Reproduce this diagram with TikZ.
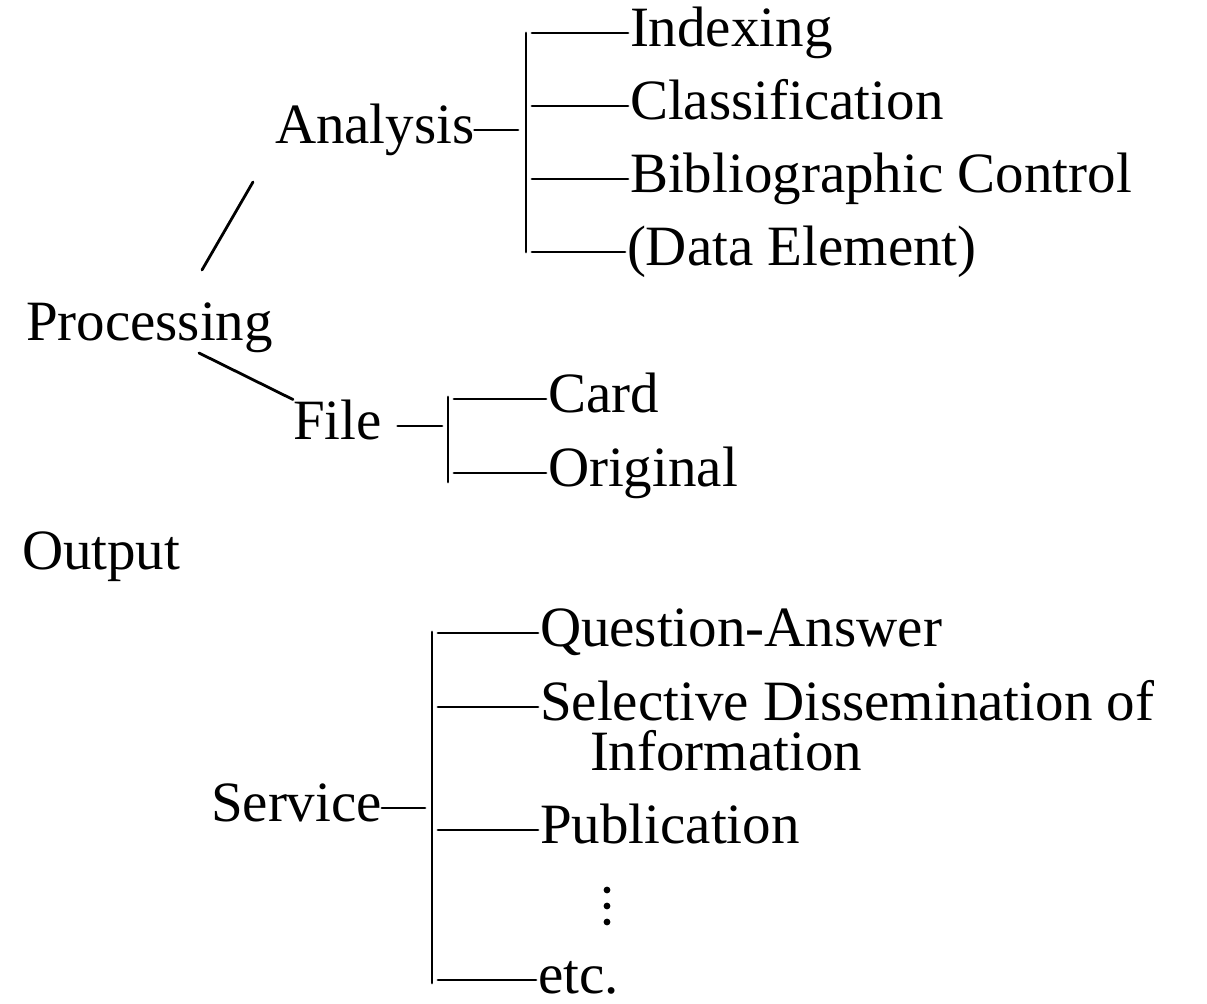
\documentclass[tikz,border=0pt]{standalone}
\usepackage{fontspec}
\setmainfont{Liberation Serif}
\usepackage{tikz}
\usetikzlibrary{calc}

\begin{document}
\fontsize{28.5}{25}\selectfont
\begin{tikzpicture}[x=0.5pt, y=-0.5pt, line width=1.4pt, line cap=round]
            \tikzstyle{every node}=[inner sep=0pt, outer sep=0pt, anchor=mid west]
            \tikzstyle{twig}=[shorten <=3pt, shorten >=1pt]
            \useasboundingbox (0,0) rectangle (1207,1004);

            % first level
            \node (proc) at (26,327)  {Processing};
            \node (out)  at (22,556)  {Output};
            % second level
            \node (ana)  at (275,130) {Analysis};
            \node (file) at (293,426) {File};
            \node (serv) at (211,808) {Service};
            % under Analysis
            \node (idx)  at (630,33)  {Indexing};
            \node (cls)  at (630,106) {Classification};
            \node (bib)  at (630,179) {Bibliographic Control};
            \node (dat)  at (627,252) {(Data Element)};
            % under File
            \node (card) at (548,399) {Card};
            \node (orig) at (548,473) {Original};
            % under Service
            \node (qa)   at (540,633) {Question-Answer};
            \node (sdi)  at (540,707) {Selective Dissemination of};
            \node (info) at (590,757) {Information};
            \node (pub)  at (540,830) {Publication};
            \node (etc)  at (538,980) {etc.};

            % bars
            \coordinate (aTop) at (526,33);  \coordinate (aBot) at (526,252);
            \coordinate (fTop) at (448,397); \coordinate (fBot) at (448,482);
            \coordinate (sTop) at (432,632); \coordinate (sBot) at (432,983);
            \draw (aTop) -- (aBot);
            \draw (fTop) -- (fBot);
            \draw (sTop) -- (sBot);

            % links from Processing
            \coordinate (pa1) at (202,270); \coordinate (pa2) at (253,182);
            \coordinate (pf1) at (199,353);
            \draw (pa1) -- (pa2);
            \draw (pf1) -- (file.north west);

            % dashes to the bars
            \draw[shorten >=4pt] (ana.mid east) -- (aTop |- ana.mid east);
            \draw[shorten <=8pt, shorten >=3pt] (file.mid east) -- (fTop |- file.mid east);
            \draw[shorten >=3.5pt] (serv.mid east) -- (sTop |- serv.mid east);

            % branches
            \foreach \n in {idx,cls,bib,dat}
                \draw[twig] (aTop |- \n.mid west) -- (\n.mid west);
            \foreach \n in {card,orig}
                \draw[twig] (fTop |- \n.mid west) -- (\n.mid west);
            \foreach \n in {qa,sdi,pub,etc}
                \draw[twig] (sTop |- \n.mid west) -- (\n.mid west);

            % vertical dots
            \foreach \y in {890,906,922}
                \fill (607,\y) circle (1.7pt);
        \end{tikzpicture}
\end{document}
